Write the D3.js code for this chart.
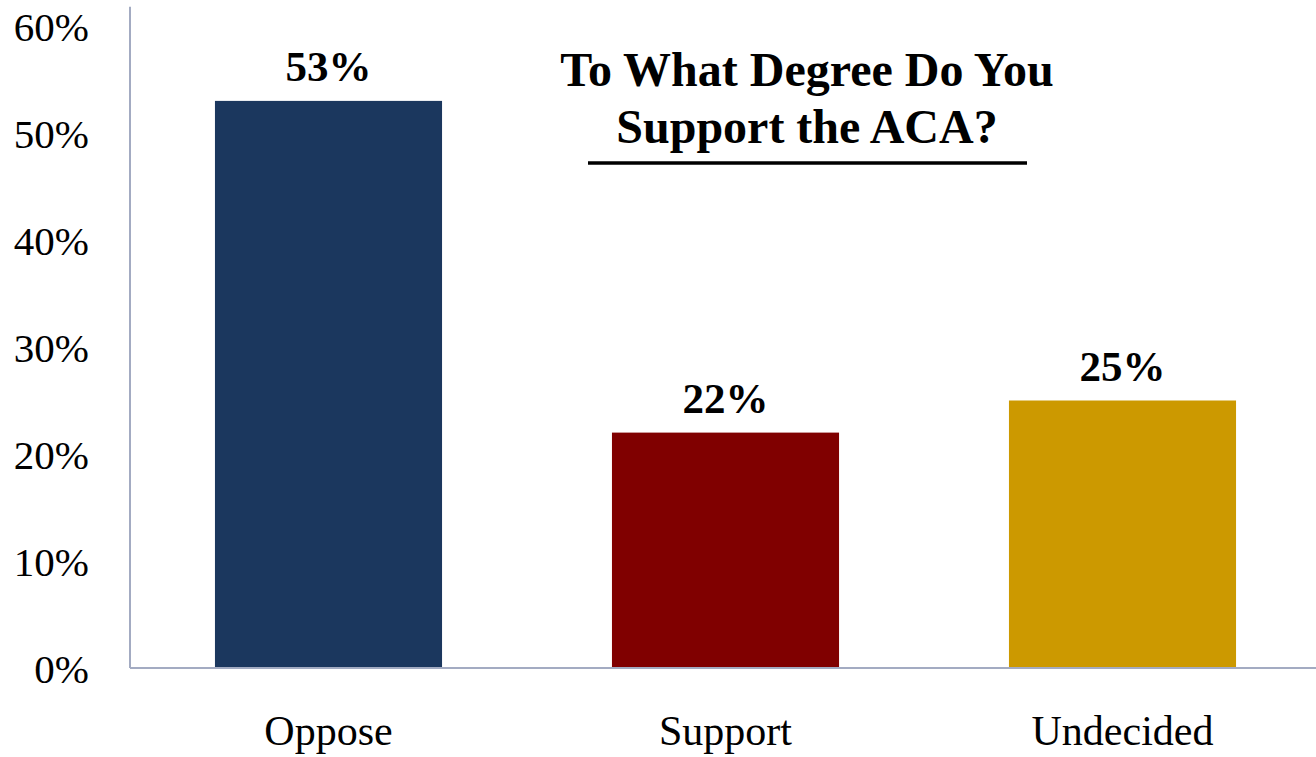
<!DOCTYPE html>
<html>
<head>
<meta charset="utf-8">
<script src="https://cdn.jsdelivr.net/npm/d3@7"></script>
<style>
  html, body { margin: 0; padding: 0; background: #ffffff; }
  svg { display: block; }
  text { font-family: "Liberation Serif", "Times New Roman", Times, serif; fill: #000; }
</style>
</head>
<body>
<svg id="chart" width="1316" height="757"></svg>
<script>
// Survey responses (percent of respondents)
const categories = ["Oppose", "Support", "Undecided"];
const values = [53, 22, 25];
const barColors = ["#1b375e", "#800000", "#cc9900"];
const yTicks = [0, 10, 20, 30, 40, 50, 60];
const titleLines = ["To What Degree Do You", "Support the ACA?"];

const svg = d3.select("#chart");
const W = 1316, H = 757;

const x = d3.scaleBand()
  .domain(categories)
  .range([130, 1321])
  .paddingInner(0.428)
  .paddingOuter(0.214);

const y = d3.scaleLinear()
  .domain([0, 60])
  .range([668, 26]);

const axisColor = "#a3abc2";
const serif = '"Liberation Serif", "Times New Roman", serif';

// Value axis
const yAxis = svg.append("g")
  .attr("transform", "translate(130,0)")
  .call(d3.axisLeft(y).tickValues(yTicks).tickSize(0).tickPadding(41).tickFormat(d => d + "%"));
yAxis.attr("font-family", null);
yAxis.select(".domain").attr("stroke", axisColor).attr("stroke-width", 2)
  .attr("d", `M0,${y(61.8)}V${y(0)}`);
yAxis.selectAll("text")
  .attr("font-size", 41)
  .attr("dy", "0.36em")
  .style("font-family", serif);

// Bars
svg.append("g").selectAll("rect")
  .data(categories)
  .join("rect")
  .attr("x", d => x(d))
  .attr("width", x.bandwidth())
  .attr("y", (d, i) => y(values[i]))
  .attr("height", (d, i) => y(0) - y(values[i]))
  .attr("fill", (d, i) => barColors[i]);

// Category axis
const xAxis = svg.append("g")
  .attr("transform", `translate(0,${y(0)})`)
  .call(d3.axisBottom(x).tickSize(0).tickPadding(47));
xAxis.attr("font-family", null);
xAxis.select(".domain").attr("stroke", axisColor).attr("stroke-width", 2)
  .attr("d", `M130,0H${W}`);
xAxis.selectAll("text")
  .attr("font-size", 42)
  .attr("dy", "0.71em")
  .style("font-family", serif);

// Value labels above bars
svg.append("g").selectAll("text")
  .data(categories)
  .join("text")
  .attr("x", d => x(d) + x.bandwidth() / 2)
  .attr("y", (d, i) => y(values[i]) - 20)
  .attr("text-anchor", "middle")
  .attr("font-size", 43)
  .attr("font-weight", "bold")
  .text((d, i) => values[i] + "%");

// Title with underline
const title = svg.append("g");
title.selectAll("text")
  .data(titleLines)
  .join("text")
  .attr("x", 807)
  .attr("y", (d, i) => 86 + i * 57)
  .attr("text-anchor", "middle")
  .attr("font-size", 48)
  .attr("font-weight", "bold")
  .text(d => d);
title.append("line")
  .attr("x1", 588).attr("x2", 1027)
  .attr("y1", 163).attr("y2", 163)
  .attr("stroke", "#000")
  .attr("stroke-width", 3.5);
</script>
</body>
</html>
